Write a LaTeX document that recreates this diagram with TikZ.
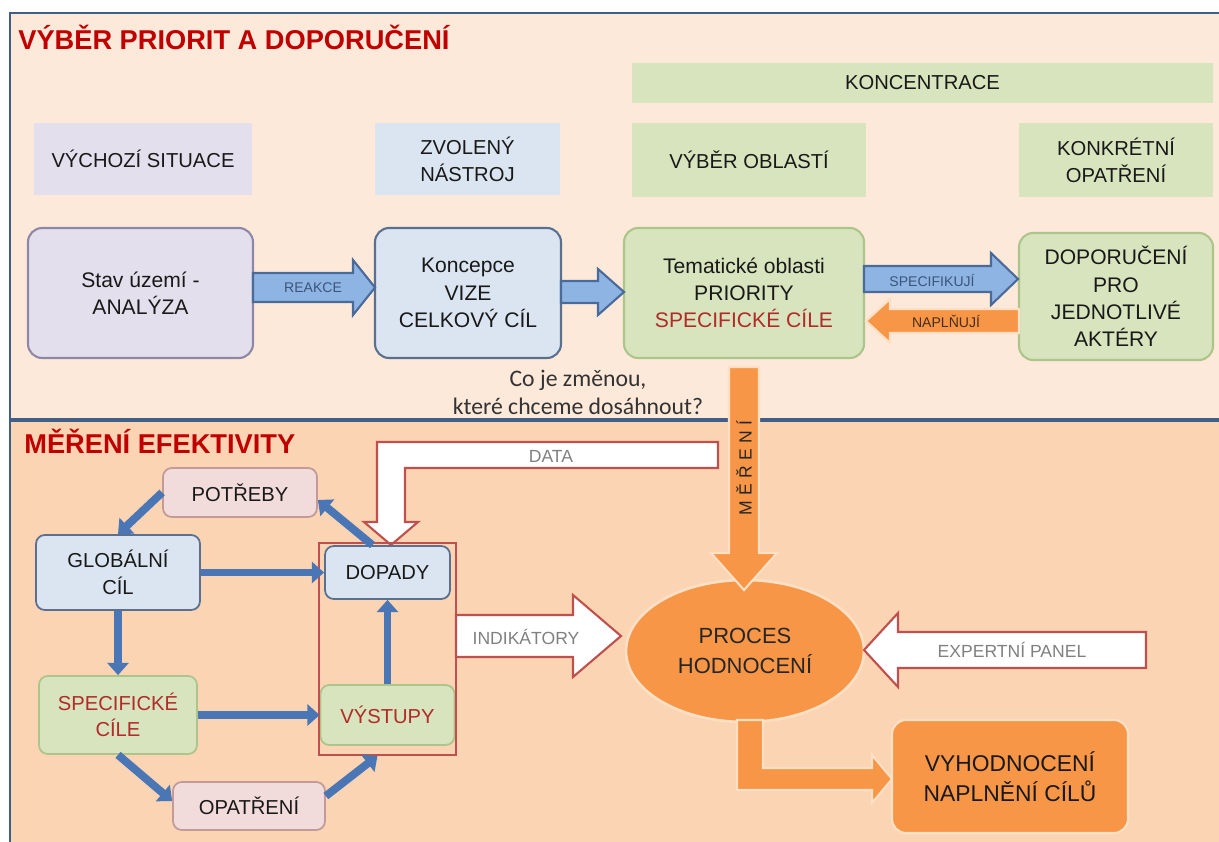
\documentclass[tikz,border=0pt]{standalone}
\usepackage{fontspec}
\setmainfont{Liberation Sans}
\newfontfamily\notefont{Carlito}
\newfontfamily\spacedfont[LetterSpace=30]{Liberation Sans}
\usetikzlibrary{arrows.meta, shapes.geometric}

\definecolor{panelTop}{HTML}{FDE9D9}
\definecolor{panelBot}{HTML}{FBD4B4}
\definecolor{panelLine}{HTML}{3F5F86}
\definecolor{titleRed}{HTML}{C00000}
\definecolor{textRed}{HTML}{B22A2A}
\definecolor{lavFill}{HTML}{E4DFEC}
\definecolor{lavLine}{HTML}{8E88A6}
\definecolor{bluFill}{HTML}{DBE5F1}
\definecolor{bluLine}{HTML}{5B6F8E}
\definecolor{grnFill}{HTML}{D7E4BD}
\definecolor{grnLine}{HTML}{ADC48A}
\definecolor{pnkFill}{HTML}{F2DCDB}
\definecolor{pnkLine}{HTML}{C39A98}
\definecolor{arrBlue}{HTML}{8EB4E3}
\definecolor{arrBlueLine}{HTML}{4A6A9A}
\definecolor{linkBlue}{HTML}{4A76B5}
\definecolor{orng}{HTML}{F79646}
\definecolor{orngLine}{HTML}{FCE0C6}
\definecolor{wLine}{HTML}{C0504D}

% block arrow: style, x start, x head base, x tip, y, body half, head half
\newcommand{\harrow}[7]{%
  \draw[#1] (#2,#5-#6) -- (#3,#5-#6) -- (#3,#5-#7) -- (#4,#5) -- (#3,#5+#7) -- (#3,#5+#6) -- (#2,#5+#6) -- cycle;}

\begin{document}
\begin{tikzpicture}[x=0.02cm, y=-0.02cm,
    hdr/.style={fill=#1, inner sep=0pt, align=center, text=black!90, font=\fontsize{11.5}{15.5}\selectfont},
    box/.style={rounded corners=8pt, line width=1.2pt, inner sep=0pt, align=center, text=black!90, font=\fontsize{12}{15.5}\selectfont},
    sbox/.style={rounded corners=5pt, line width=1pt, inner sep=0pt, align=center, text=black!90, font=\fontsize{11.5}{15}\selectfont},
    barrow/.style={fill=arrBlue, draw=arrBlueLine, line width=1.2pt},
    oarrow/.style={fill=orng, draw=orngLine, line width=1.2pt},
    warrow/.style={fill=white, draw=wLine, line width=1.2pt},
    link/.style={draw=linkBlue, line width=4.5pt, -{Triangle[width=12pt,length=7pt]}},
    arrlbl/.style={inner sep=0pt, font=\fontsize{8}{9}\selectfont},
    wlbl/.style={inner sep=0pt, text=black!50, font=\fontsize{10}{11}\selectfont},
    ttl/.style={anchor=base west, inner sep=0pt, text=titleRed, font=\fontsize{15.5}{17}\selectfont\bfseries}]
    \useasboundingbox (0,0) rectangle (1219,841);
    \fill[white] (0,0) rectangle (1219,841);
    % The two panels
    \draw[panelLine, line width=1.5pt, fill=panelTop] (10,13) rectangle (1225,419);
    \draw[panelLine, line width=1.5pt, fill=panelBot] (10,421) rectangle (1225,850);
    \node[ttl] (ttop) at (18,50) {VÝBĚR PRIORIT A DOPORUČENÍ};
    \node[ttl] (tbot) at (24,453) {MĚŘENÍ EFEKTIVITY};

    % Column headers
    \node[hdr=lavFill, minimum width=4.36cm, minimum height=1.44cm] (hsit) at (143,159) {VÝCHOZÍ SITUACE};
    \node[hdr=bluFill, minimum width=3.7cm, minimum height=1.44cm] (hnas) at (467.5,159) {ZVOLENÝ\\NÁSTROJ};
    \node[hdr=grnFill, minimum width=11.62cm, minimum height=0.8cm] (hkon) at (922.5,83) {KONCENTRACE};
    \node[hdr=grnFill, minimum width=4.68cm, minimum height=1.48cm] (hobl) at (749,160) {VÝBĚR OBLASTÍ};
    \node[hdr=grnFill, minimum width=3.88cm, minimum height=1.48cm] (hopa) at (1116,160) {KONKRÉTNÍ\\OPATŘENÍ};

    % Main row
    \node[box, fill=lavFill, draw=lavLine, minimum width=4.5cm, minimum height=2.6cm] (stav) at (140.5,293) {Stav území -\\ANALÝZA};
    \node[box, fill=bluFill, draw=bluLine, minimum width=3.72cm, minimum height=2.6cm] (konc) at (468,293) {Koncepce\\VIZE\\CELKOVÝ CÍL};
    \node[box, fill=grnFill, draw=grnLine, minimum width=4.8cm, minimum height=2.6cm] (tema) at (744,293) {Tematické oblasti\\PRIORITY\\{\color{textRed}SPECIFICKÉ CÍLE}};
    \node[box, fill=grnFill, draw=grnLine, minimum width=3.88cm, minimum height=2.54cm] (dopo) at (1116,296.5) {DOPORUČENÍ\\PRO\\JEDNOTLIVÉ\\AKTÉRY};
    \node[inner sep=0pt, align=center, text=black!80, font=\notefont\fontsize{13.5}{16}\selectfont] (note) at (578,392) {Co je změnou,\\které chceme dosáhnout?};

    \harrow{barrow}{253}{353}{375}{287.5}{14.5}{27.5}
    \harrow{barrow}{561}{598}{624}{292}{11}{23}
    \harrow{barrow}{864}{991}{1018}{279}{13}{26}
    \harrow{oarrow}{1019}{890}{866}{321}{12}{22}
    \node[arrlbl, text=arrBlueLine!80!black] (lreak) at (313,288) {REAKCE};
    \node[arrlbl, text=arrBlueLine!80!black] (lspec) at (932,280) {SPECIFIKUJÍ};
    \node[arrlbl, text=black!70!orng] (lnapl) at (946,321) {NAPLŇUJÍ};

    % DATA arrow bent down to the box pair
    \draw[warrow] (718,442) -- (377,442) -- (377,522) -- (364,522) -- (391,545) -- (418,522) -- (405,522) -- (405,468) -- (718,468) -- cycle;
    \node[wlbl] (ldata) at (551,456) {DATA};

    % Evaluation cycle
    \node[sbox, fill=pnkFill, draw=pnkLine, minimum width=3.08cm, minimum height=0.98cm] (potreby) at (240,492.5) {POTŘEBY};
    \node[sbox, fill=bluFill, draw=bluLine, minimum width=3.28cm, minimum height=1.5cm] (glob) at (118,572.5) {GLOBÁLNÍ\\CÍL};
    \node[sbox, fill=grnFill, draw=grnLine, text=textRed, minimum width=3.16cm, minimum height=1.56cm] (spec) at (118,715) {SPECIFICKÉ\\CÍLE};
    \node[sbox, fill=pnkFill, draw=pnkLine, minimum width=3.04cm, minimum height=0.96cm] (opatreni) at (249,806) {OPATŘENÍ};
    \node[sbox, fill=bluFill, draw=bluLine, minimum width=2.5cm, minimum height=1.06cm] (dopady) at (387.5,572.5) {DOPADY};
    \node[sbox, fill=grnFill, draw=grnLine, text=textRed, minimum width=2.68cm, minimum height=1.2cm] (vystupy) at (387.5,715) {VÝSTUPY};
    \node[draw=wLine, line width=1pt, inner sep=0pt, minimum width=2.74cm, minimum height=4.24cm] (frame) at (387.5,649) {};

    \draw[link] (potreby.west) -- (glob.north);
    \draw[link] (glob.east) -- (dopady.west);
    \draw[link] (glob.south) -- (spec.north);
    \draw[link] (spec.east) -- (vystupy.west);
    \draw[link] (vystupy.north) -- (dopady.south);
    \draw[link] ([xshift=-0.3cm]dopady.north) -- ([yshift=-0.15cm]potreby.east);
    \draw[link] (spec.south) -- ([yshift=0.1cm]opatreni.west);
    \draw[link] ([yshift=0.2cm]opatreni.east) -- ([xshift=-0.2cm]frame.south);

    % Evaluation process
    \node[ellipse, fill=orng, draw=orngLine, line width=1.5pt, inner sep=0pt, align=center, text=black!85,
      minimum width=4.76cm, minimum height=2.84cm, font=\fontsize{12.5}{17}\selectfont] (proces) at (745,651) {PROCES\\HODNOCENÍ};
    \node[box, fill=orng, draw=orngLine, minimum width=4.72cm, minimum height=2.26cm,
      font=\fontsize{13}{17}\selectfont] (vyhod) at (1010,776.5) {VYHODNOCENÍ\\NAPLNĚNÍ CÍLŮ};

    \draw[oarrow] (729,367) -- (759,367) -- (759,553) -- (777,553) -- (744,590) -- (711,553) -- (729,553) -- cycle;
    \node[rotate=90, inner sep=0pt, text=black!85, font=\spacedfont\fontsize{10}{11}\selectfont] (lmer) at (744,468) {MĚŘENÍ};
    \draw[oarrow] (737,720) -- (763,720) -- (763,768) -- (872,768) -- (872,755) -- (892,779) -- (872,803) -- (872,790) -- (737,790) -- cycle;

    \harrow{warrow}{456}{573}{621}{636}{21}{41}
    \harrow{warrow}{1146}{898}{864}{650}{18}{37}
    \node[wlbl] (lind) at (526,637) {INDIKÁTORY};
    \node[wlbl] (lexp) at (1012,650) {EXPERTNÍ PANEL};
\end{tikzpicture}
\end{document}
